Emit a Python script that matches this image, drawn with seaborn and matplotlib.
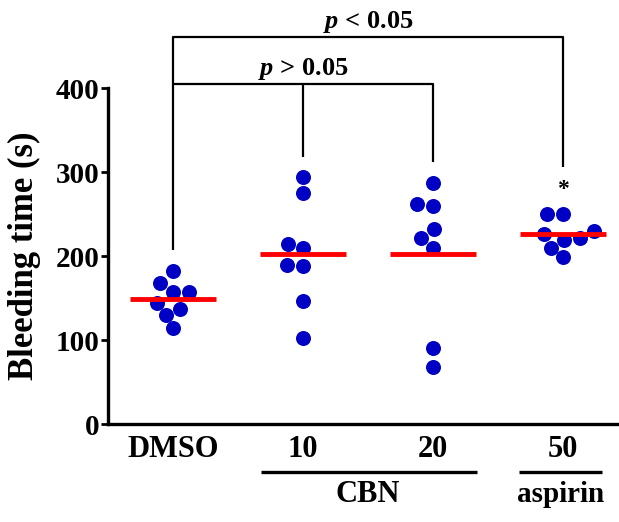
import numpy as np
import pandas as pd
import matplotlib
matplotlib.use("Agg")
import matplotlib.pyplot as plt
import seaborn as sns

# Bleeding time per animal (s)
groups = ["DMSO", "10", "20", "50"]
dmso = [182, 167.5, 157, 157.5, 144.5, 137.5, 130, 114]
cbn_10 = [294, 275, 210, 214, 188, 189, 147, 103]
cbn_20 = [286.5, 259, 261.5, 232, 221, 209, 91, 68]
aspirin_50 = [250, 250, 230, 226, 222, 219, 210, 199]
# Group mean lines
group_means = [148.5, 202.5, 203, 226]
y_ticks = [0, 100, 200, 300, 400]

sns.set_style("ticks", {"axes.edgecolor": "black", "text.color": "black",
                        "axes.labelcolor": "black", "xtick.color": "black",
                        "ytick.color": "black"})
plt.rcParams["font.family"] = ["Liberation Serif", "DejaVu Serif"]
plt.rcParams["font.weight"] = "bold"
plt.rcParams["mathtext.fontset"] = "custom"
plt.rcParams["mathtext.it"] = "Liberation Serif:italic:bold"
plt.rcParams["mathtext.rm"] = "Liberation Serif:bold"

df = pd.DataFrame({
    "group": np.repeat(groups, 8),
    "time": dmso + cbn_10 + cbn_20 + aspirin_50,
})

fig = plt.figure(figsize=(6.19, 5.22), dpi=100)
ax = fig.add_axes([0.1745, 0.1877, 0.8255, 0.8046])

sns.swarmplot(data=df, x="group", y="time", order=groups, color="#0000C4",
              size=10.8, linewidth=0, ax=ax, zorder=3)

# mean bars
pos = np.arange(len(groups))
ax.hlines(group_means, pos - 0.33, pos + 0.33, color="#FF0000", lw=3.5, zorder=4)

ax.set_xlim(-0.5, 3.43)
ax.set_ylim(0, 500)
ax.set_yticks(y_ticks)
ax.set_yticklabels([str(t) for t in y_ticks], fontsize=21, fontweight="bold")
ax.set_xticks(pos)
ax.set_xticklabels(groups, fontsize=22, fontweight="bold")
ax.tick_params(axis="x", length=0, pad=8, colors="black")
ax.tick_params(axis="y", length=5, width=2, pad=1, colors="black")
ax.set_xlabel("")
ax.set_ylabel("Bleeding time (s)", fontsize=25, fontweight="bold", color="black")
ax.yaxis.set_label_coords(-0.132, 0.4)

for s in ["top", "right"]:
    ax.spines[s].set_visible(False)
ax.spines["left"].set_bounds(0, 400)
for s in ["left", "bottom"]:
    ax.spines[s].set_linewidth(2.4)
    ax.spines[s].set_color("black")

# comparison brackets
bk = dict(color="black", lw=1.6, clip_on=False, solid_capstyle="butt")
ax.plot([0, 0, 3, 3], [207, 461, 461, 306], **bk)
ax.plot([0, 2, 2], [405, 405, 312], **bk)
ax.plot([1, 1], [405, 318], **bk)
ax.text(1.5, 471, r"$p$ < 0.05", ha="center", va="baseline", fontsize=19,
        fontweight="bold", color="black")
ax.text(1.0, 415, r"$p$ > 0.05", ha="center", va="baseline", fontsize=19,
        fontweight="bold", color="black")
ax.text(3, 279, "*", ha="center", va="center", fontsize=17, fontweight="bold", color="black")

# treatment group underlines and labels
tr = ax.get_xaxis_transform()
ul = dict(color="black", lw=2.4, transform=tr, clip_on=False, solid_capstyle="butt")
ax.plot([0.68, 2.34], [-0.114, -0.114], **ul)
ax.plot([2.66, 3.30], [-0.114, -0.114], **ul)
ax.text(1.5, -0.168, "CBN", transform=tr, ha="center", va="center", fontsize=22,
        fontweight="bold", color="black")
ax.text(2.98, -0.168, "aspirin", transform=tr, ha="center", va="center", fontsize=21,
        fontweight="bold", color="black")

fig.savefig("out.png", dpi=100)
